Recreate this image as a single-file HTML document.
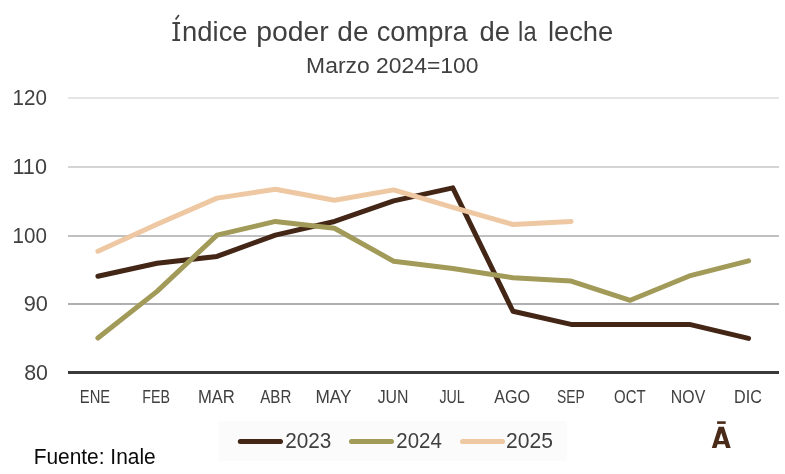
<!DOCTYPE html>
<html><head><meta charset="utf-8"><title>Índice poder de compra de la leche</title>
<style>
html,body{margin:0;padding:0;background:#fff;}
body{width:785px;height:474px;overflow:hidden;}
svg{display:block;will-change:transform;}
text{font-family:"Liberation Sans",sans-serif;}
</style></head><body>
<svg width="785" height="474" viewBox="0 0 785 474">
<rect x="0" y="0" width="785" height="474" fill="#ffffff"/>
<line x1="68.0" y1="98.00" x2="779.0" y2="98.00" stroke="#e5e5e5" stroke-width="2"/>
<line x1="68.0" y1="167.00" x2="779.0" y2="167.00" stroke="#d5d5d5" stroke-width="2"/>
<line x1="68.0" y1="236.00" x2="779.0" y2="236.00" stroke="#c0c0c0" stroke-width="2"/>
<line x1="68.0" y1="304.00" x2="779.0" y2="304.00" stroke="#afafaf" stroke-width="2"/>
<polyline points="97.90,276.30 157.05,263.27 217.00,256.41 275.35,235.15 334.50,221.44 393.65,200.86 452.80,187.83 512.95,311.27 571.10,324.43 630.25,324.43 689.40,324.43 748.55,338.36" fill="none" stroke="#432616" stroke-width="5.0" stroke-linecap="round" stroke-linejoin="round"/>
<polyline points="97.90,338.01 157.05,291.38 217.00,235.15 275.35,221.44 334.50,228.29 393.65,261.21 452.80,268.41 512.95,277.67 571.10,281.10 630.25,300.30 689.40,275.95 748.55,260.87" fill="none" stroke="#a19a58" stroke-width="5.0" stroke-linecap="round" stroke-linejoin="round"/>
<polyline points="97.90,251.27 157.05,224.18 217.00,198.12 275.35,189.20 334.50,200.18 393.65,189.89 452.80,207.38 512.95,224.52 571.10,221.44" fill="none" stroke="#eec8a2" stroke-width="5.0" stroke-linecap="round" stroke-linejoin="round"/>
<line x1="68.0" y1="372.5" x2="779.0" y2="372.5" stroke="#3a3a3a" stroke-width="3"/>
<rect x="1" y="473" width="782" height="1" fill="#fefefe"/>
<rect x="219" y="421" width="348" height="39.7" fill="#fbfbfb"/>
<line x1="240.3" y1="441.45" x2="280.5" y2="441.45" stroke="#432616" stroke-width="5.0" stroke-linecap="round"/>
<line x1="351.5" y1="441.45" x2="391.5" y2="441.45" stroke="#a19a58" stroke-width="5.0" stroke-linecap="round"/>
<line x1="462.5" y1="441.45" x2="502.5" y2="441.45" stroke="#eec8a2" stroke-width="5.0" stroke-linecap="round"/>
<text transform="translate(182.09 40.70) scale(1.0227 1)" font-size="26.8" fill="#404040">ndice</text>
<text transform="translate(256.23 40.70) scale(1.0594 1)" font-size="26.8" fill="#404040">poder</text>
<text transform="translate(337.33 40.70) scale(1.0435 1)" font-size="26.8" fill="#404040">de</text>
<text transform="translate(376.65 40.70) scale(1.0203 1)" font-size="26.8" fill="#404040">compra</text>
<text transform="translate(479.44 40.70) scale(1.0220 1)" font-size="26.8" fill="#404040">de</text>
<text transform="translate(518.12 40.70) scale(0.8835 1)" font-size="26.8" fill="#404040">la</text>
<text transform="translate(547.89 40.70) scale(1.0211 1)" font-size="26.8" fill="#404040">leche</text>
<text transform="translate(306.11 72.50) scale(1.0266 1)" font-size="22.3" fill="#404040">Marzo 2024=100</text>
<text transform="translate(12.51 105.20) scale(0.9635 1)" font-size="21.4" fill="#404040">120</text>
<text transform="translate(12.45 174.20) scale(1.0110 1)" font-size="21.4" fill="#404040">110</text>
<text transform="translate(12.51 243.20) scale(0.9635 1)" font-size="21.4" fill="#404040">100</text>
<text transform="translate(23.78 311.20) scale(1.0149 1)" font-size="21.4" fill="#404040">90</text>
<text transform="translate(24.13 379.70) scale(0.9999 1)" font-size="21.4" fill="#404040">80</text>
<text transform="translate(79.85 402.90) scale(0.8441 1)" font-size="17.5" fill="#404040">ENE</text>
<text transform="translate(142.29 402.90) scale(0.8142 1)" font-size="17.5" fill="#404040">FEB</text>
<text transform="translate(197.90 402.90) scale(0.9509 1)" font-size="17.5" fill="#404040">MAR</text>
<text transform="translate(260.20 402.90) scale(0.8650 1)" font-size="17.5" fill="#404040">ABR</text>
<text transform="translate(315.45 402.90) scale(0.9866 1)" font-size="17.5" fill="#404040">MAY</text>
<text transform="translate(377.65 402.90) scale(0.9064 1)" font-size="17.5" fill="#404040">JUN</text>
<text transform="translate(439.48 402.90) scale(0.8122 1)" font-size="17.5" fill="#404040">JUL</text>
<text transform="translate(494.20 402.90) scale(0.9230 1)" font-size="17.5" fill="#404040">AGO</text>
<text transform="translate(556.97 402.90) scale(0.7915 1)" font-size="17.5" fill="#404040">SEP</text>
<text transform="translate(614.10 402.90) scale(0.8543 1)" font-size="17.5" fill="#404040">OCT</text>
<text transform="translate(670.86 402.90) scale(0.9061 1)" font-size="17.5" fill="#404040">NOV</text>
<text transform="translate(734.04 402.90) scale(0.9232 1)" font-size="17.5" fill="#404040">DIC</text>
<text transform="translate(285.23 447.90) scale(0.9753 1)" font-size="21.3" fill="#404040">2023</text>
<text transform="translate(396.34 447.90) scale(0.9595 1)" font-size="21.3" fill="#404040">2024</text>
<text transform="translate(506.01 447.90) scale(0.9907 1)" font-size="21.3" fill="#404040">2025</text>
<text transform="translate(33.67 463.60) scale(0.9421 1)" font-size="22.2" fill="#0a0a0a">Fuente: Inale</text>
<g fill="#404040"><rect x="175.1" y="22.1" width="2.4" height="18.8"/><rect x="172.4" y="22.1" width="7.7" height="1.9"/><rect x="172.4" y="39.1" width="7.7" height="1.9"/></g>
<line x1="175.6" y1="19.5" x2="178.9" y2="15.0" stroke="#404040" stroke-width="1.7"/>
<rect x="717.1" y="421.3" width="8.6" height="2.6" fill="#4a2a18"/>
<path d="M711.8 447.9 L718.6 426.8 L723.9 426.8 L730.7 447.9 L726.1 447.9 L724.9 444.2 L717.6 444.2 L716.4 447.9 Z M718.6 441.1 L723.9 441.1 L721.25 432.8 Z" fill="#4a2a18" fill-rule="evenodd"/>
</svg></body></html>
